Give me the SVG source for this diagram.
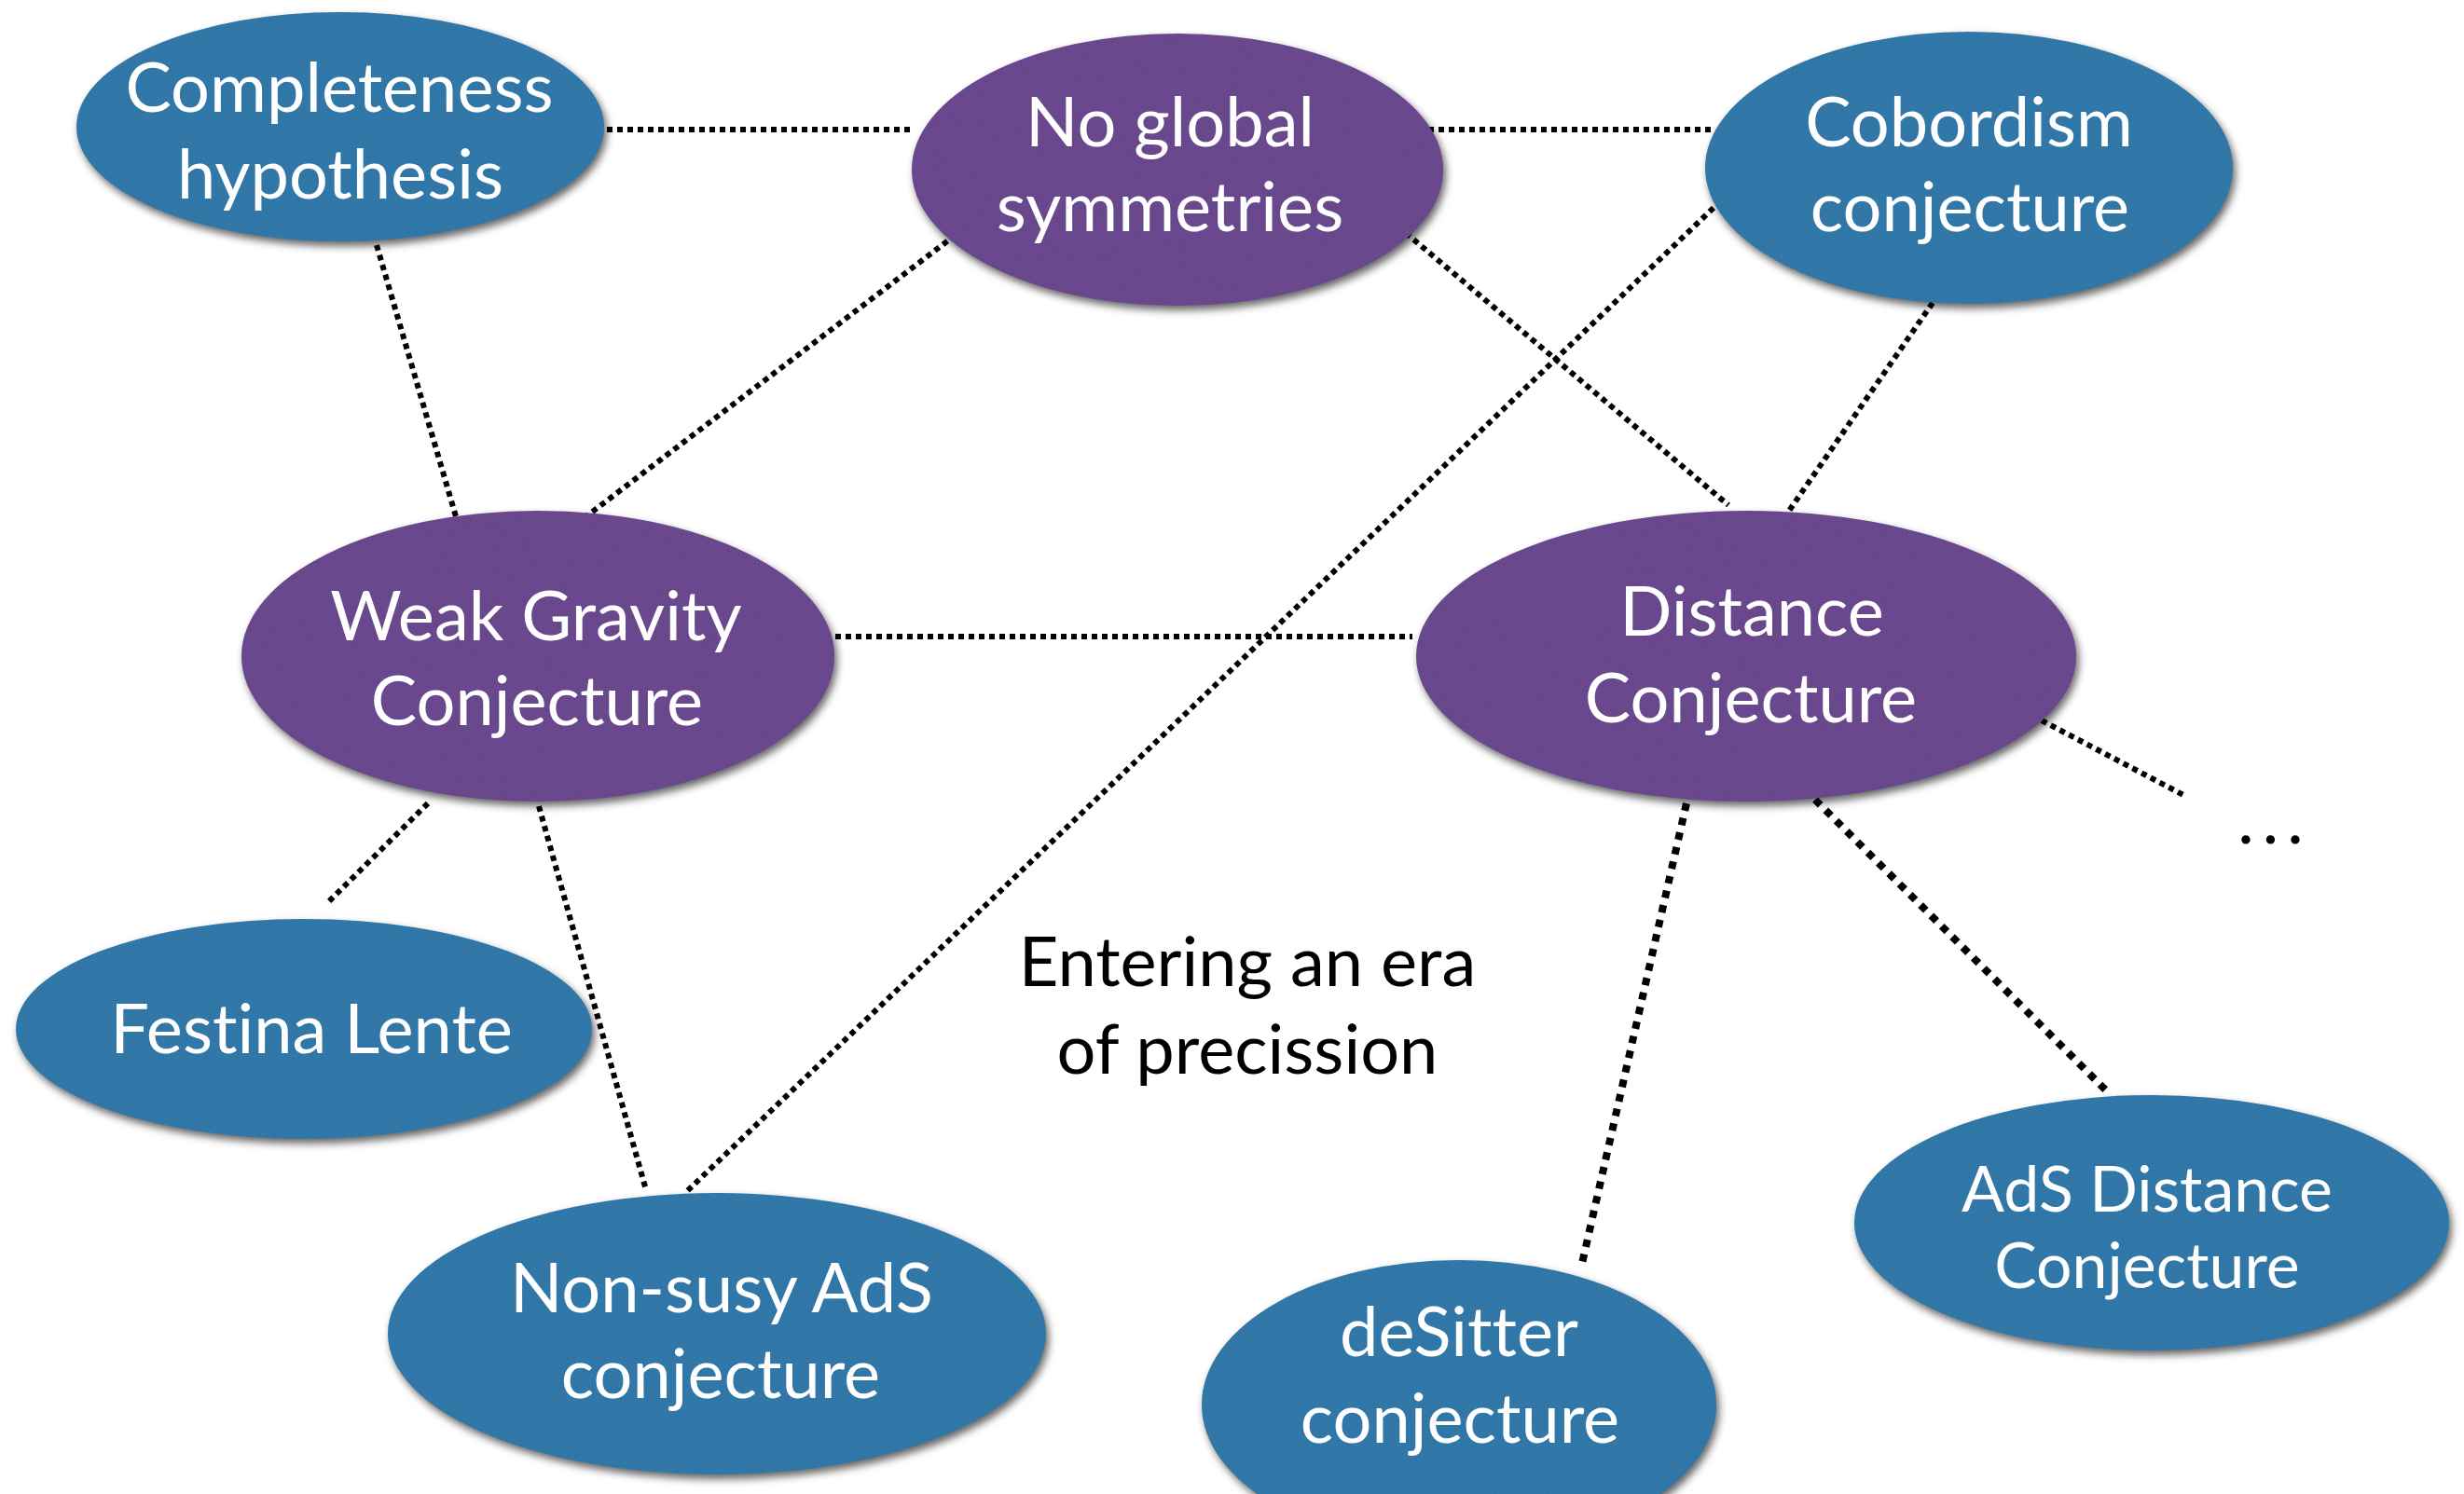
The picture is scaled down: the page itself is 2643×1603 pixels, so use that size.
<svg xmlns="http://www.w3.org/2000/svg" width="2643" height="1603" viewBox="0 0 2643 1603">
  <style>
    .blue { fill: #2c78aa; }
    .purple { fill: #69448f; }
    .node-shape { filter: url(#paper); }
    .label, .note { font-family: Lato, "Open Sans", "Liberation Sans", sans-serif; font-size: 74px; text-anchor: middle; font-variant-ligatures: none; font-feature-settings: "liga" 0, "dlig" 0; }
    .label { fill: #ffffff; }
    .label.small { font-size: 68px; }
    .note { fill: #000000; }
    .link { fill: none; stroke: #000000; stroke-width: 6; stroke-dasharray: 6 5; }
    .link.heavy { stroke-width: 8; stroke-dasharray: 8 8; }
  </style>
  <defs>
    <!-- soft drop shadow plus a faint paper grain for the ellipses -->
    <filter id="paper" x="-10%" y="-10%" width="125%" height="130%" color-interpolation-filters="sRGB">
      <feTurbulence type="fractalNoise" baseFrequency="0.6" numOctaves="3" seed="7" result="noise"/>
      <feColorMatrix in="noise" type="saturate" values="0" result="gray"/>
      <feComponentTransfer in="gray" result="grain">
        <feFuncA type="linear" slope="0" intercept="0.06"/>
      </feComponentTransfer>
      <feComposite in="grain" in2="SourceAlpha" operator="in" result="grainIn"/>
      <feGaussianBlur in="SourceAlpha" stdDeviation="4" result="blur"/>
      <feOffset in="blur" dx="3" dy="5" result="offBlur"/>
      <feFlood flood-color="#000000" flood-opacity="0.6"/>
      <feComposite in2="offBlur" operator="in" result="shadow"/>
      <feMerge>
        <feMergeNode in="shadow"/>
        <feMergeNode in="SourceGraphic"/>
        <feMergeNode in="grainIn"/>
      </feMerge>
    </filter>
  </defs>

  <rect x="0" y="0" width="2643" height="1603" fill="#ffffff"/>

  <!-- connectors -->
  <g id="connectors">
    <line class="link" x1="651" y1="139" x2="978" y2="139"/>
    <line class="link" x1="1510" y1="139" x2="1836" y2="139"/>
    <line class="link" x1="404" y1="263" x2="491" y2="561"/>
    <line class="link" x1="1025" y1="252" x2="625" y2="557"/>
    <line class="link" x1="1508" y1="250" x2="1854" y2="542"/>
    <line class="link" x1="1838" y1="223" x2="736" y2="1279"/>
    <line class="link" x1="2073" y1="325" x2="1919" y2="548"/>
    <line class="link" x1="885" y1="683" x2="1515" y2="683"/>
    <line class="link" x1="459" y1="862" x2="351" y2="969"/>
    <line class="link" x1="578" y1="865" x2="693" y2="1277"/>
    <line class="link" x1="2190" y1="773" x2="2344" y2="854"/>
    <line class="link heavy" x1="1809" y1="862" x2="1696" y2="1360"/>
    <line class="link heavy" x1="1947" y1="858" x2="2262" y2="1173"/>
  </g>

  <!-- nodes -->
  <g id="completeness-hypothesis">
    <ellipse class="blue node-shape" cx="365" cy="136" rx="283" ry="123"/>
    <text class="label" x="364" y="120">Completeness</text>
    <text class="label" x="365" y="213">hypothesis</text>
  </g>

  <g id="no-global-symmetries">
    <ellipse class="purple node-shape" cx="1263" cy="182" rx="285" ry="146"/>
    <text class="label" x="1255" y="157">No global</text>
    <text class="label" x="1255" y="248">symmetries</text>
  </g>

  <g id="cobordism-conjecture">
    <ellipse class="blue node-shape" cx="2112" cy="180" rx="283" ry="146"/>
    <text class="label" x="2112" y="157">Cobordism</text>
    <text class="label" x="2113" y="248">conjecture</text>
  </g>

  <g id="weak-gravity-conjecture">
    <ellipse class="purple node-shape" cx="577" cy="704" rx="318" ry="156"/>
    <text class="label" x="575" y="687">Weak Gravity</text>
    <text class="label" x="576" y="778">Conjecture</text>
  </g>

  <g id="distance-conjecture">
    <ellipse class="purple node-shape" cx="1873" cy="704" rx="354" ry="156"/>
    <text class="label" x="1879" y="682">Distance</text>
    <text class="label" x="1878" y="775">Conjecture</text>
  </g>

  <g id="festina-lente">
    <ellipse class="blue node-shape" cx="326" cy="1104" rx="309" ry="118"/>
    <text class="label" x="334" y="1130">Festina Lente</text>
  </g>

  <g id="non-susy-ads-conjecture">
    <ellipse class="blue node-shape" cx="769" cy="1431" rx="353" ry="151"/>
    <text class="label" x="774" y="1408">Non-susy AdS</text>
    <text class="label" x="773" y="1500">conjecture</text>
  </g>

  <g id="desitter-conjecture">
    <ellipse class="blue node-shape" cx="1565" cy="1507" rx="276" ry="155"/>
    <text class="label" x="1565" y="1455">deSitter</text>
    <text class="label" x="1566" y="1548">conjecture</text>
  </g>

  <g id="ads-distance-conjecture">
    <ellipse class="blue node-shape" cx="2308" cy="1312" rx="319" ry="137"/>
    <text class="label small" x="2303" y="1300">AdS Distance</text>
    <text class="label small" x="2303" y="1382">Conjecture</text>
  </g>

  <!-- free-standing annotations -->
  <g id="era-note">
    <text class="note" x="1338" y="1058">Entering an era</text>
    <text class="note" x="1338" y="1152">of precission</text>
  </g>
  <g id="more">
    <text class="note" x="2440" y="905" letter-spacing="9">...</text>
  </g>
</svg>
